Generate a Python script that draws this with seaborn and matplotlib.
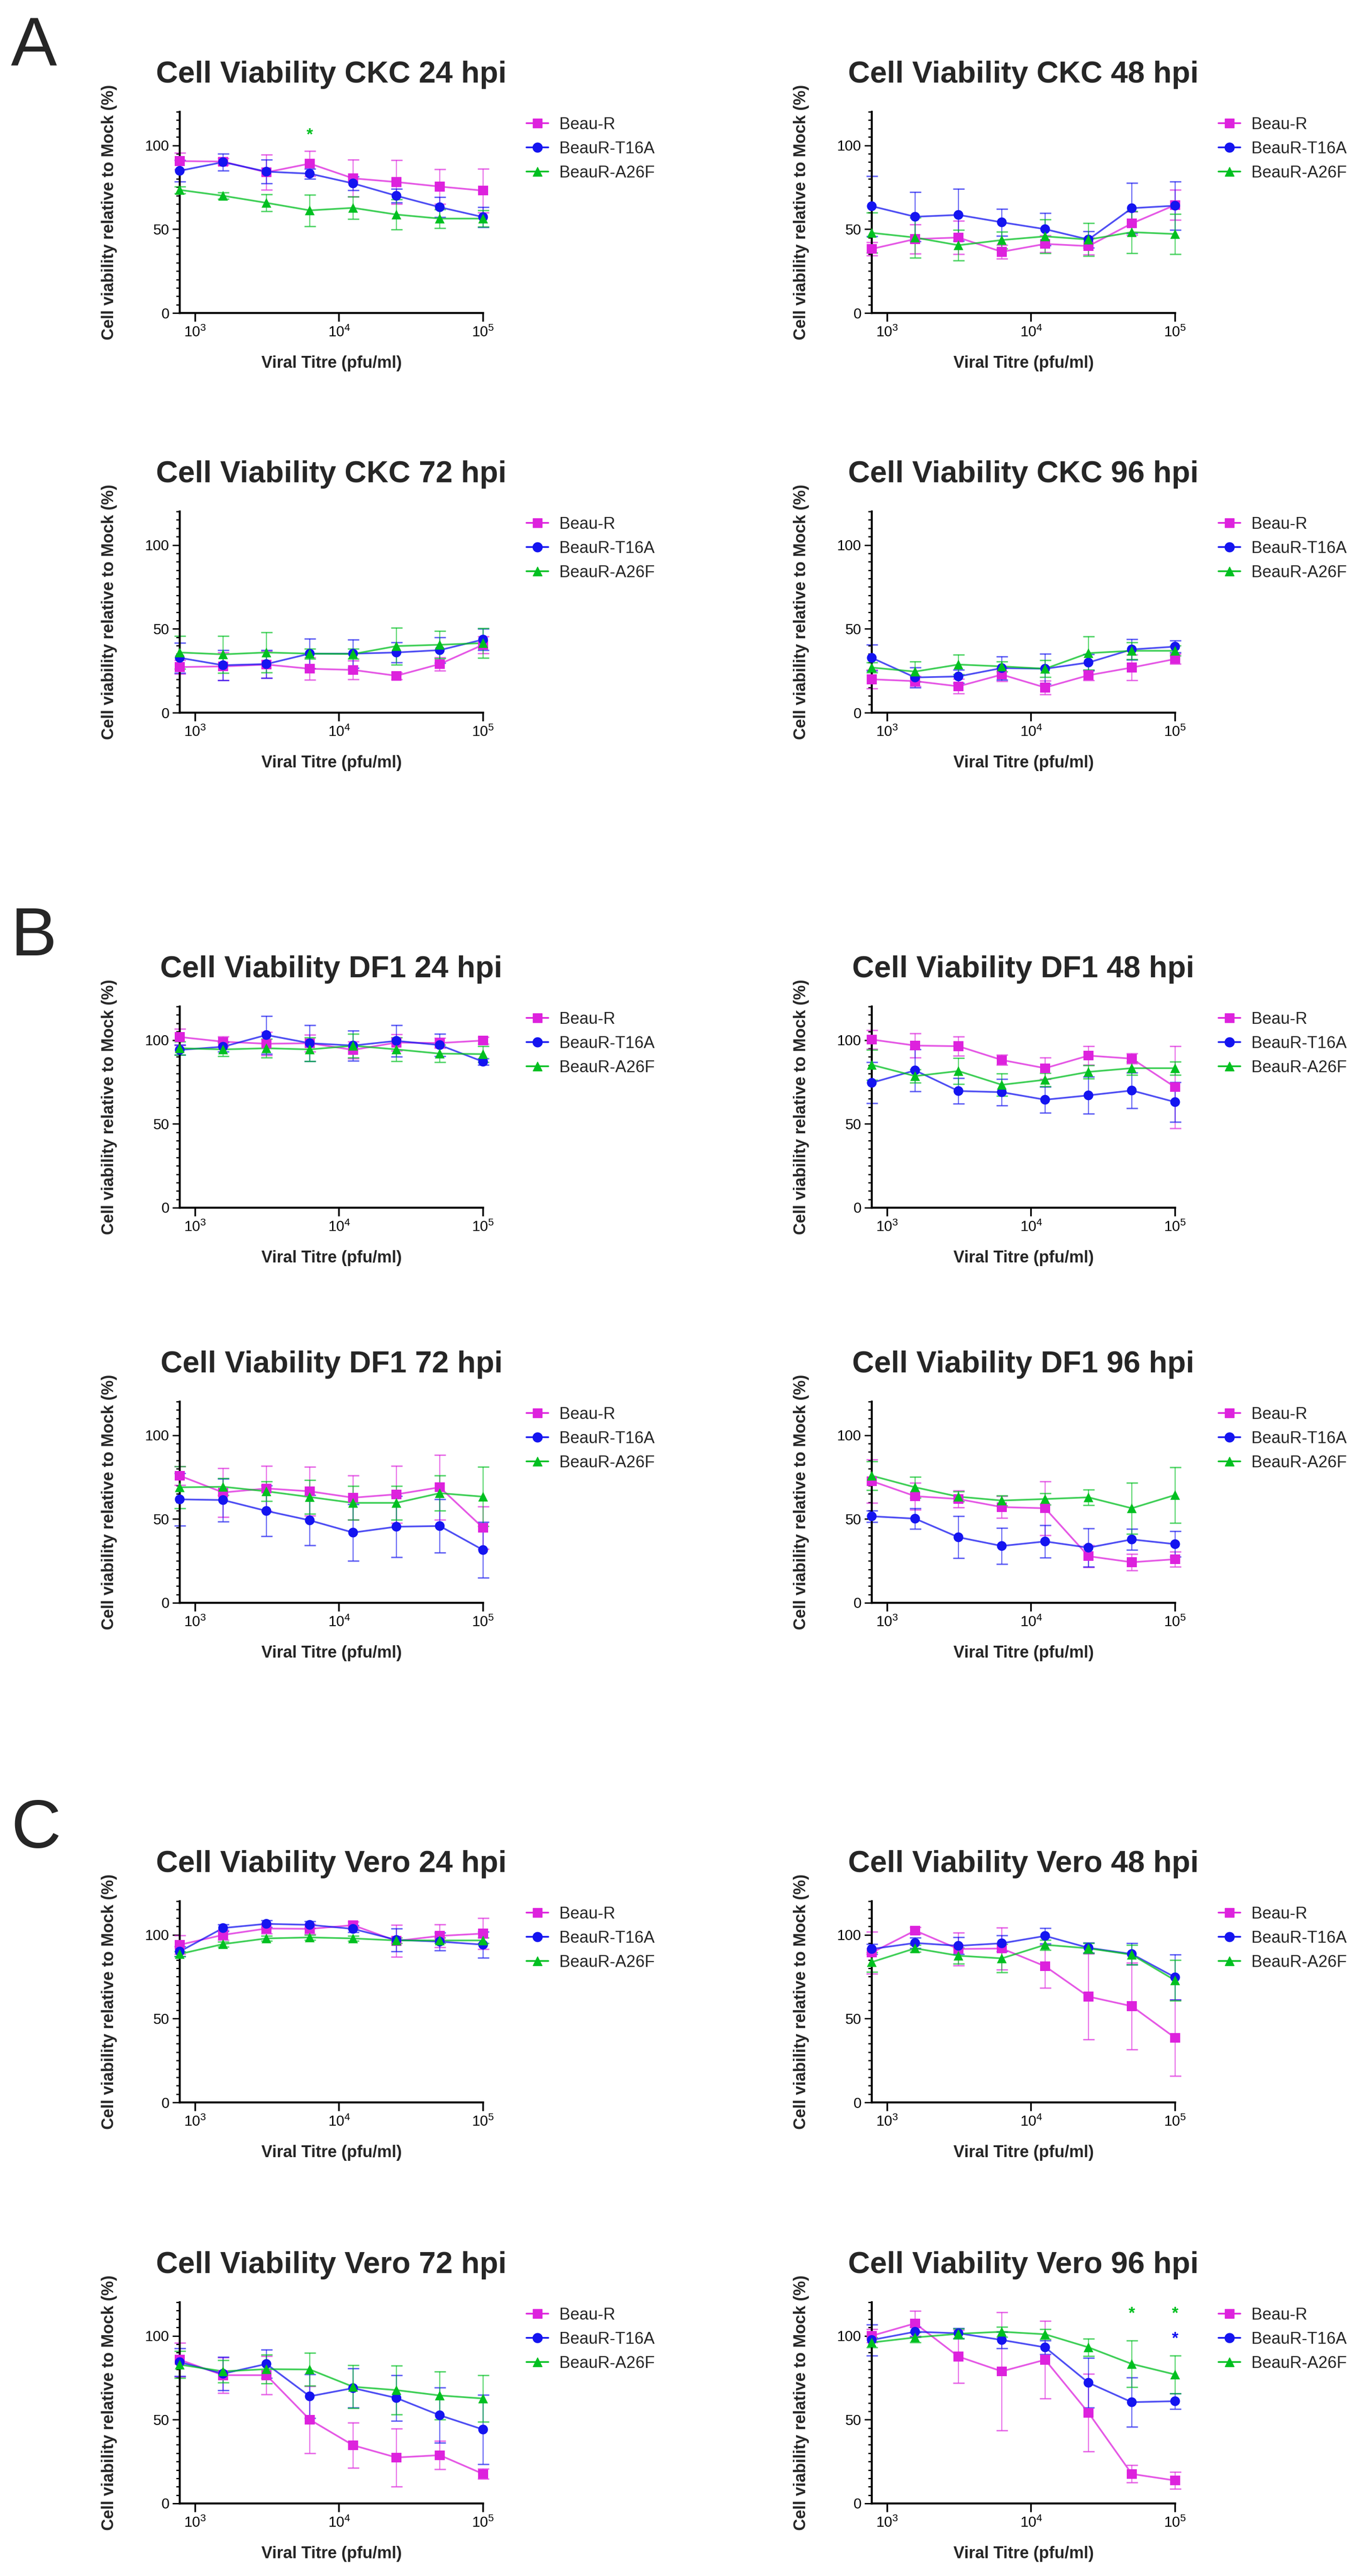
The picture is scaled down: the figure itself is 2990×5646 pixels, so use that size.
import matplotlib
matplotlib.use('Agg')
import matplotlib.pyplot as plt
from matplotlib.lines import Line2D
from matplotlib.ticker import FixedLocator, MultipleLocator, NullLocator, FixedFormatter
import pandas as pd
import seaborn as sns

# 2-fold dilution series (pfu/ml)
titres = [781.25, 1562.5, 3125, 6250, 12500, 25000, 50000, 100000]
viruses = ['Beau-R', 'BeauR-T16A', 'BeauR-A26F']
colours = ['#DD22DD', '#1414F0', '#00C020']
marker_map = {'Beau-R': 's', 'BeauR-T16A': 'o', 'BeauR-A26F': '^'}

# mean viability relative to mock (%) - rows: Beau-R, T16A, A26F
ckc_24_mean = [[90.6, 90.3, 83.9, 89.1, 80.3, 78.1, 75.4, 73.0],
               [84.8, 90.0, 84.3, 83.1, 77.3, 69.9, 63.1, 57.2],
               [73.4, 69.9, 65.7, 61.2, 62.7, 58.7, 56.3, 56.3]]
ckc_24_sd = [[5.0, 2.0, 10.5, 7.6, 11.0, 13.0, 10.4, 13.0],
             [6.4, 5.0, 7.0, 3.0, 4.0, 4.0, 6.0, 6.0],
             [2.0, 2.0, 5.0, 9.4, 6.7, 9.0, 5.6, 5.0]]

ckc_48_mean = [[38.2, 44.1, 45.0, 36.5, 41.2, 39.9, 53.4, 64.4],
               [63.7, 57.4, 58.5, 54.1, 50.0, 43.8, 62.5, 64.0],
               [47.8, 45.0, 40.4, 43.5, 45.7, 43.8, 48.2, 47.1]]
ckc_48_sd = [[4.0, 8.8, 10.0, 4.0, 5.0, 5.0, 7.0, 9.0],
             [18.0, 14.7, 15.5, 8.0, 9.7, 5.0, 15.0, 14.4],
             [12.0, 12.0, 9.0, 5.0, 10.0, 9.7, 12.5, 12.0]]

ckc_72_mean = [[27.2, 27.6, 28.7, 26.2, 25.5, 22.0, 29.0, 40.5],
               [32.7, 28.3, 29.0, 35.2, 35.2, 35.9, 37.3, 43.6],
               [35.9, 34.8, 35.9, 35.2, 35.0, 39.7, 40.5, 41.5]]
ckc_72_sd = [[4.0, 8.4, 8.0, 6.6, 5.5, 2.0, 4.0, 5.0],
             [9.0, 9.0, 8.4, 8.8, 8.4, 6.0, 7.7, 6.4],
             [9.8, 11.0, 12.0, 3.0, 3.0, 11.0, 8.2, 8.8]]

ckc_96_mean = [[19.9, 18.8, 15.7, 22.7, 15.0, 22.3, 26.9, 32.0],
               [32.7, 21.0, 21.6, 26.6, 26.2, 29.9, 37.7, 39.4],
               [26.9, 24.5, 28.7, 27.6, 26.2, 35.5, 36.9, 36.9]]
ckc_96_sd = [[5.6, 3.0, 4.4, 4.0, 4.0, 3.0, 7.7, 3.0],
             [7.8, 6.0, 4.0, 7.0, 9.0, 5.0, 6.0, 3.5],
             [3.0, 6.0, 5.8, 3.0, 5.0, 10.0, 5.0, 3.0]]

df1_24_mean = [[101.8, 99.0, 97.8, 98.1, 94.1, 98.5, 98.2, 99.7],
               [94.1, 96.0, 103.0, 98.1, 96.7, 99.5, 97.0, 87.1],
               [95.1, 94.4, 95.1, 94.4, 96.6, 94.4, 91.9, 91.6]]
df1_24_sd = [[5.0, 3.0, 7.0, 5.0, 5.0, 5.0, 3.0, 2.0],
             [3.0, 3.0, 11.4, 10.8, 9.0, 9.4, 6.7, 2.0],
             [4.0, 4.0, 5.5, 7.0, 7.0, 7.0, 5.2, 4.7]]

df1_48_mean = [[100.3, 96.7, 96.3, 88.1, 83.2, 90.7, 88.9, 71.9],
               [74.5, 81.9, 69.6, 68.9, 64.4, 67.0, 69.9, 63.0],
               [85.2, 78.5, 81.5, 73.3, 76.3, 81.0, 83.2, 83.2]]
df1_48_sd = [[5.6, 7.3, 5.7, 3.0, 6.4, 5.6, 3.0, 24.5],
             [12.3, 12.6, 7.6, 7.9, 7.8, 11.0, 10.6, 11.9],
             [9.0, 4.0, 7.7, 6.7, 4.0, 4.0, 4.0, 4.0]]

df1_72_mean = [[75.8, 65.8, 68.2, 66.5, 62.7, 64.7, 68.9, 44.7],
               [61.7, 61.3, 54.8, 49.2, 41.9, 45.4, 45.8, 31.5],
               [68.9, 69.2, 66.5, 63.1, 59.6, 59.6, 65.4, 63.3]]
df1_72_sd = [[5.5, 14.6, 13.4, 14.5, 13.1, 17.0, 19.3, 12.7],
             [15.7, 12.8, 15.2, 15.0, 17.0, 18.3, 16.0, 16.6],
             [12.5, 5.0, 5.8, 10.0, 10.0, 10.0, 10.4, 17.7]]

df1_96_mean = [[72.6, 63.6, 61.9, 57.1, 56.4, 27.8, 24.2, 26.0],
               [51.6, 50.2, 39.1, 33.9, 36.6, 32.9, 37.8, 35.0],
               [75.8, 68.9, 63.3, 61.0, 61.9, 62.9, 56.4, 64.3]]
df1_96_sd = [[12.9, 8.0, 5.0, 6.6, 16.0, 6.6, 5.0, 4.6],
             [3.5, 6.2, 12.5, 10.8, 9.6, 11.4, 6.3, 7.6],
             [8.6, 6.2, 3.0, 3.0, 3.5, 4.6, 15.2, 16.6]]

vero_24_mean = [[94.0, 99.9, 103.7, 103.5, 105.7, 96.3, 99.3, 100.7],
                [90.0, 104.0, 106.5, 105.9, 103.5, 96.9, 95.9, 94.1],
                [88.5, 94.4, 97.8, 98.4, 97.8, 96.6, 96.6, 96.6]]
vero_24_sd = [[5.6, 3.0, 3.0, 3.0, 2.0, 9.6, 6.9, 9.2],
              [3.0, 2.0, 2.0, 2.0, 2.0, 6.9, 5.2, 7.8],
              [1.5, 1.5, 1.5, 1.5, 1.5, 1.5, 1.5, 1.5]]

vero_48_mean = [[89.3, 102.5, 91.5, 91.8, 81.2, 63.1, 57.4, 38.5],
                [91.5, 95.1, 93.4, 94.9, 99.3, 92.2, 88.5, 74.6],
                [83.7, 91.9, 87.5, 85.9, 94.0, 91.9, 88.1, 72.8]]
vero_48_sd = [[12.5, 2.0, 9.8, 12.5, 12.8, 25.6, 25.9, 22.8],
              [3.0, 3.0, 5.0, 4.7, 4.7, 3.0, 6.4, 13.5],
              [5.9, 2.0, 4.7, 8.4, 3.0, 3.0, 5.9, 12.2]]

vero_72_mean = [[85.7, 76.5, 76.5, 50.0, 34.7, 27.4, 28.8, 17.6],
                [84.3, 77.4, 83.2, 63.9, 68.8, 62.9, 52.6, 44.1],
                [82.8, 78.8, 80.1, 79.9, 69.6, 67.6, 64.4, 62.6]]
vero_72_sd = [[10.0, 10.7, 11.4, 20.0, 13.5, 17.2, 8.5, 3.0],
              [8.3, 10.0, 8.4, 13.0, 11.7, 13.6, 16.5, 20.6],
              [8.1, 6.7, 8.6, 9.8, 12.8, 14.5, 14.3, 13.9]]

vero_96_mean = [[100.0, 107.4, 87.6, 78.8, 85.7, 54.1, 17.6, 13.7],
                [97.5, 102.4, 101.5, 97.5, 93.1, 72.0, 60.4, 61.0],
                [96.0, 99.0, 101.2, 102.4, 100.9, 93.1, 83.2, 76.9]]
vero_96_sd = [[4.0, 7.5, 15.8, 35.3, 23.2, 23.2, 5.2, 5.1],
              [9.3, 3.0, 3.0, 4.9, 4.0, 14.8, 14.8, 4.7],
              [3.0, 3.0, 3.0, 3.0, 3.0, 5.1, 13.9, 11.3]]

panel_titles = ['Cell Viability CKC 24 hpi', 'Cell Viability CKC 48 hpi',
                'Cell Viability CKC 72 hpi', 'Cell Viability CKC 96 hpi',
                'Cell Viability DF1 24 hpi', 'Cell Viability DF1 48 hpi',
                'Cell Viability DF1 72 hpi', 'Cell Viability DF1 96 hpi',
                'Cell Viability Vero 24 hpi', 'Cell Viability Vero 48 hpi',
                'Cell Viability Vero 72 hpi', 'Cell Viability Vero 96 hpi']
panel_means = [ckc_24_mean, ckc_48_mean, ckc_72_mean, ckc_96_mean,
               df1_24_mean, df1_48_mean, df1_72_mean, df1_96_mean,
               vero_24_mean, vero_48_mean, vero_72_mean, vero_96_mean]
panel_sds = [ckc_24_sd, ckc_48_sd, ckc_72_sd, ckc_96_sd,
             df1_24_sd, df1_48_sd, df1_72_sd, df1_96_sd,
             vero_24_sd, vero_48_sd, vero_72_sd, vero_96_sd]

# significance asterisks: panel index, titre, height, virus index
star_panel = [0, 11, 11, 11]
star_x = [6250, 50000, 100000, 100000]
star_y = [106, 113, 113, 98]
star_virus = [2, 2, 2, 1]

section_letters = ['A', 'B', 'C']

sns.set_theme(style='ticks')
plt.rcParams['font.family'] = ['Liberation Sans', 'DejaVu Sans']
plt.rcParams['mathtext.default'] = 'regular'

W, H = 2990, 5646
fig = plt.figure(figsize=(W / 100, H / 100), dpi=100)

# layout in pixels
col_left = [394, 1911]
row_bottom = [686, 1562, 2647, 3513, 4608, 5487]
ax_w, ax_h = 665, 441
letter_base = [144, 2094, 4050]

palette = dict(zip(viruses, colours))

for i in range(12):
    row, col = divmod(i, 2)
    left = col_left[col]
    bottom = row_bottom[row]
    ax = fig.add_axes([left / W, 1 - bottom / H, ax_w / W, ax_h / H])
    ax.set_xscale('log')

    rows = []
    for v, m, s in zip(viruses, panel_means[i], panel_sds[i]):
        for t, mm, ss in zip(titres, m, s):
            rows.append({'titre': t, 'viability': mm, 'sd': ss, 'virus': v})
    df = pd.DataFrame(rows)

    for v, c in zip(viruses, colours):
        sub = df[df['virus'] == v]
        eb = ax.errorbar(sub['titre'], sub['viability'], yerr=sub['sd'], fmt='none',
                         ecolor=c, elinewidth=1.7, capsize=9, capthick=2.3,
                         alpha=0.65, zorder=2)
        for art in list(eb.lines[1]) + list(eb.lines[2]):
            art.set_clip_on(False)

    sns.lineplot(data=df, x='titre', y='viability', hue='virus', palette=palette,
                 estimator=None, linewidth=2.7, alpha=0.75, legend=False, ax=ax, zorder=3)
    sns.scatterplot(data=df, x='titre', y='viability', hue='virus', style='virus',
                    markers=marker_map, palette=palette, s=235, edgecolor='none',
                    legend=False, ax=ax, zorder=4, clip_on=False)
    for ln in ax.lines:
        ln.set_clip_on(False)

    for p, x, y, vi in zip(star_panel, star_x, star_y, star_virus):
        if p == i:
            ax.text(x, y, '*', color=colours[vi], ha='center', va='center',
                    fontsize=26, fontweight='bold', zorder=5)

    ax.set_xlim(titres[0], titres[-1])
    ax.set_ylim(0, 120)
    ax.xaxis.set_major_locator(FixedLocator([1e3, 1e4, 1e5]))
    ax.xaxis.set_major_formatter(FixedFormatter(['$10^{3}$', '$10^{4}$', '$10^{5}$']))
    ax.xaxis.set_minor_locator(NullLocator())
    ax.yaxis.set_major_locator(FixedLocator([0, 50, 100]))
    ax.yaxis.set_minor_locator(MultipleLocator(5))

    for side in ['top', 'right']:
        ax.spines[side].set_visible(False)
    for side in ['left', 'bottom']:
        ax.spines[side].set_linewidth(3.2)
        ax.spines[side].set_color('black')
    ax.tick_params(axis='y', which='major', length=11.5, width=2.2, pad=5,
                   labelsize=23, colors='black', direction='out')
    ax.tick_params(axis='y', which='minor', length=6, width=2.0, colors='black',
                   direction='out')
    ax.tick_params(axis='x', which='major', length=14, width=2.6, pad=6,
                   labelsize=23, colors='black', direction='out')

    ax.set_title(panel_titles[i], fontsize=48, fontweight='bold', pad=46)
    ax.set_xlabel('Viral Titre (pfu/ml)', fontsize=26, fontweight='bold')
    ax.set_ylabel('Cell viability relative to Mock (%)', fontsize=26, fontweight='bold')
    ax.xaxis.set_label_coords(0.5, -0.211)
    ax.yaxis.set_label_coords(-0.206, 0.5)
    ax.grid(False)

    handles = [Line2D([], [], color=c, marker=marker_map[v], markersize=15,
                      linewidth=2.6, markeredgecolor=c)
               for v, c in zip(viruses, colours)]
    ax.legend(handles, viruses, loc='upper left', bbox_to_anchor=(1.143, 0.975),
              frameon=False, fontsize=26, handlelength=1.33, handletextpad=0.67,
              labelspacing=0.5, borderpad=0, borderaxespad=0)

for letter, base in zip(section_letters, letter_base):
    fig.text(24 / W, 1 - base / H, letter, fontsize=109, va='baseline', ha='left')

fig.savefig('out.png', dpi=100, facecolor='white')
